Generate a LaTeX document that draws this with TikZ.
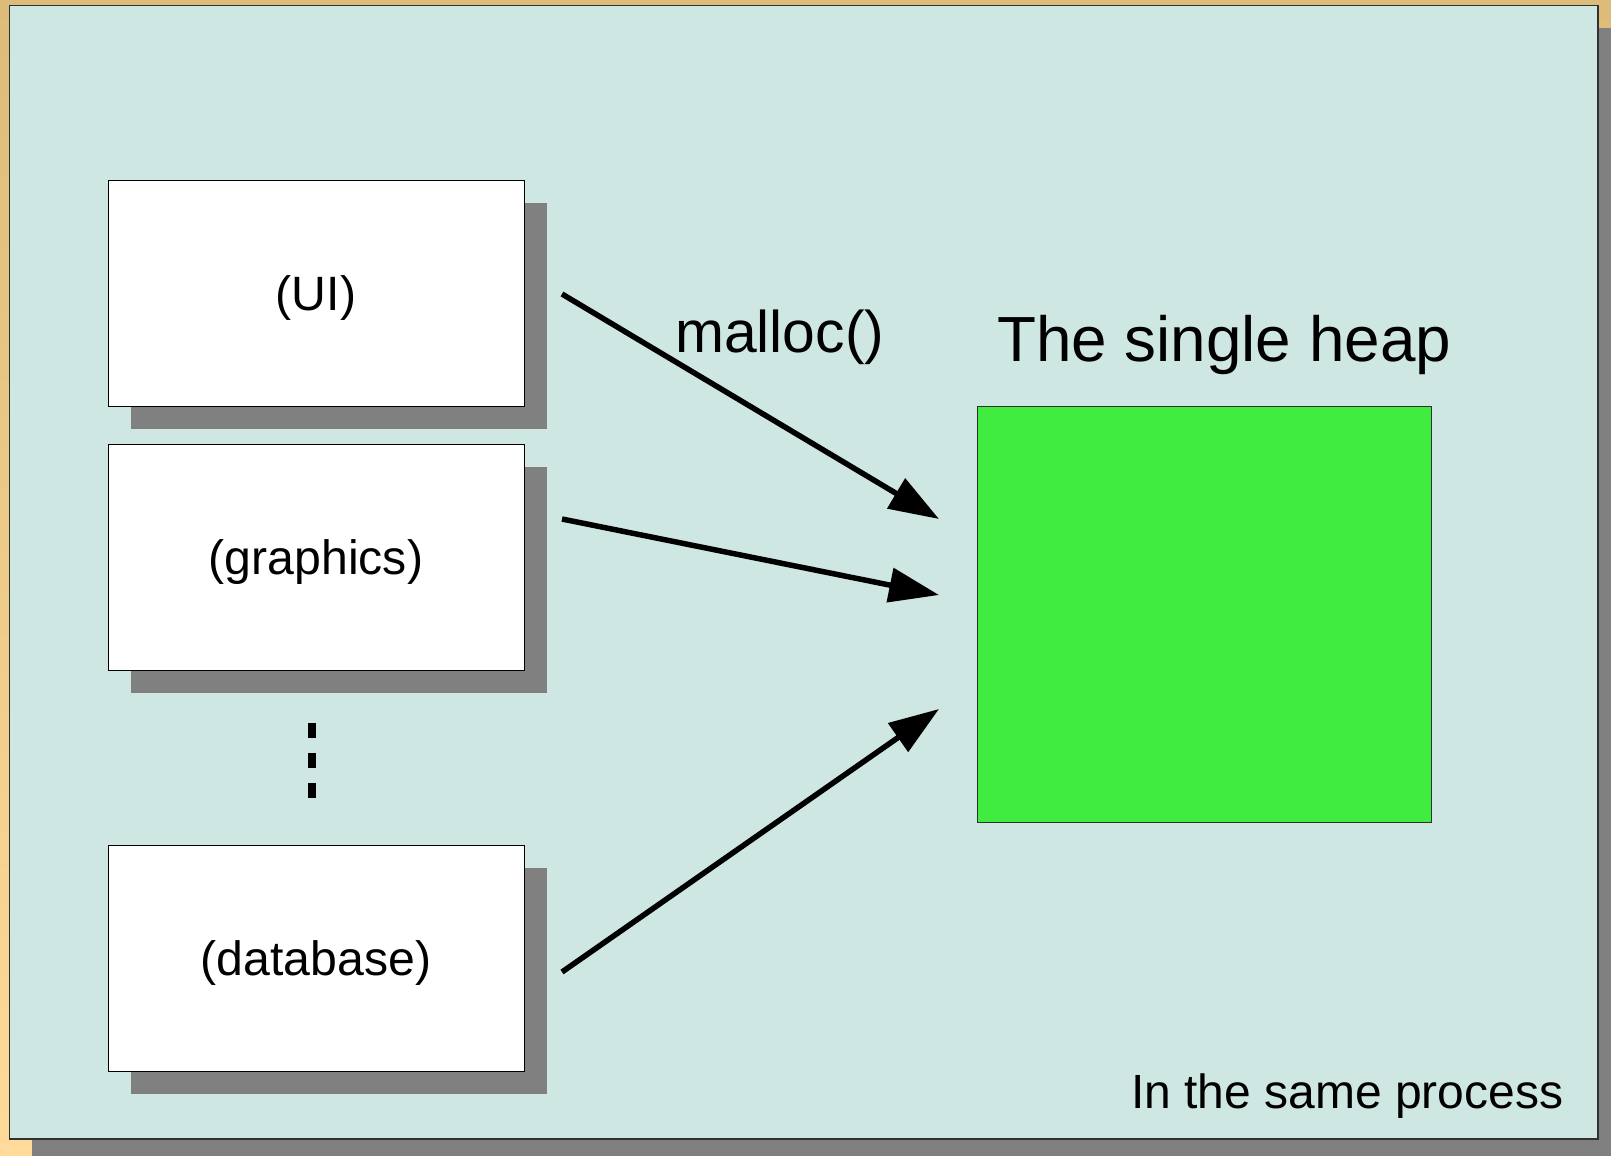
\documentclass[tikz,border=0pt]{standalone}
\usepackage{fontspec}
\setmainfont{Liberation Sans}
\usetikzlibrary{arrows.meta,shadows}

\definecolor{frametop}{RGB}{220,188,120}
\definecolor{framebot}{RGB}{255,218,154}
\definecolor{panel}{RGB}{207,231,227}
\definecolor{shadowgray}{RGB}{128,128,128}
\definecolor{heapgreen}{RGB}{64,236,64}
\definecolor{edgedark}{RGB}{48,48,48}

\tikzset{
  modbox/.style={draw=black, fill=white, line width=1pt, inner sep=0pt,
    minimum width=416pt, minimum height=226pt,
    text height=44pt, text depth=10pt,
    font=\fontsize{48.2}{58}\selectfont,
    drop shadow={shadow xshift=23pt, shadow yshift=-23pt,
      fill=shadowgray, opacity=1}},
  heapbox/.style={draw=edgedark, fill=heapgreen, line width=1pt, inner sep=0pt,
    minimum width=454pt, minimum height=416pt},
  callarrow/.style={line width=5.5pt, -{Triangle[length=50pt,width=34pt]}},
  caption/.style={inner sep=0pt, anchor=base west}
}

\begin{document}
\begin{tikzpicture}[x=1pt,y=-1pt]
  \useasboundingbox (0,0) rectangle (1611,1156);

  % slide background and framed panel with its shadow
  \shade[top color=frametop, bottom color=framebot] (0,0) rectangle (1611,1156);
  \fill[shadowgray] (32,28) rectangle (1611,1156);
  \filldraw[fill=panel, draw=edgedark, line width=1.5pt] (9.5,5.5) rectangle (1598,1139);

  % program modules
  \node[modbox] (ui) at (316,293) {(UI)};
  \node[modbox] (gfx) at (316,557) {(graphics)};
  \node[modbox] (db) at (316,958) {(database)};

  % ellipsis between modules
  \coordinate (dotstop) at (312,723);
  \coordinate (dotsbot) at (312,798);
  \draw[line width=8pt, dash pattern=on 15pt off 15pt] (dotstop) -- (dotsbot);

  % the heap
  \node[heapbox] (heap) at (1204,614) {};
  \node[caption, font=\fontsize{63.8}{72}\selectfont] (title) at (997,361.7) {The single heap};

  % allocation calls
  \coordinate (uiout) at (562,294);
  \coordinate (gfxout) at (562,519);
  \coordinate (dbout) at (562,972);
  \coordinate (heapin1) at (939,519);
  \coordinate (heapin2) at (939,595);
  \coordinate (heapin3) at (939,709);
  \draw[callarrow] (uiout) -- (heapin1);
  \draw[callarrow] (gfxout) -- (heapin2);
  \draw[callarrow] (dbout) -- (heapin3);

  \node[caption, font=\fontsize{58.8}{66}\selectfont] (malloc) at (675,352.5) {malloc()};
  \node[caption, font=\fontsize{48}{56}\selectfont] (proc) at (1131,1108.3) {In the same process};
\end{tikzpicture}
\end{document}
